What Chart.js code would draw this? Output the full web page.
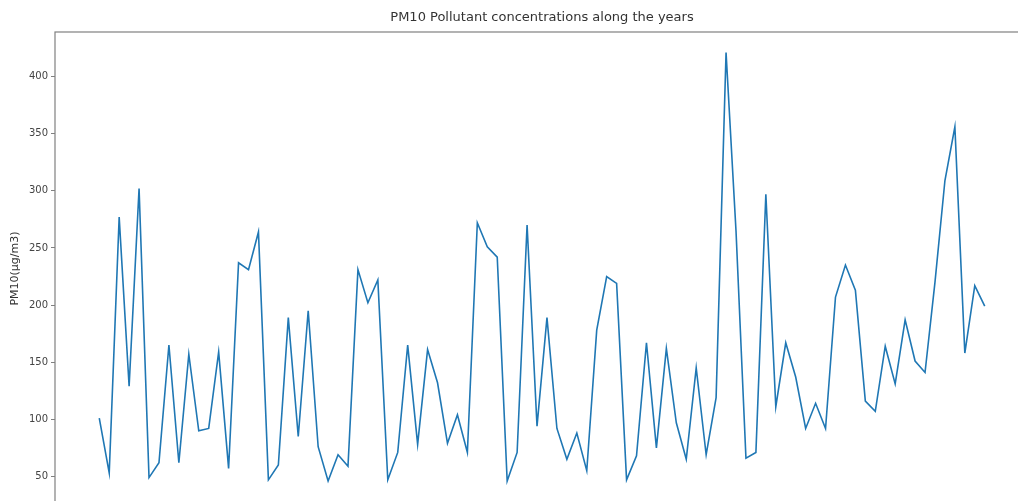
<!DOCTYPE html>
<html>
<head>
<meta charset="utf-8">
<script src="https://cdn.jsdelivr.net/npm/chart.js@4.4.1/dist/chart.umd.min.js"></script>
<style>
  html, body { margin: 0; padding: 0; overflow: hidden; background: #fff; }
  #wrap { position: absolute; left: 0; top: 0; width: 1084px; height: 540px; }
</style>
</head>
<body>
<div id="wrap"><canvas id="c" width="1084" height="540"></canvas></div>
<script>
// Chart text
const chartTitle = 'PM10 Pollutant concentrations along the years';
const yAxisLabel = 'PM10(μg/m3)';

// Y axis tick values
const yTicks = [50, 100, 150, 200, 250, 300, 350, 400];

// PM10 readings, one per sample, in order
const pm10 = [
  101, 53, 277, 129, 302, 49, 62, 165, 62, 157,
  90, 92, 159, 57, 237, 231, 264, 47, 60, 189,
  85, 195, 76, 46, 69, 59, 231, 202, 222, 47,
  71, 165, 78, 161, 132, 79, 104, 71, 272, 251,
  242, 46, 71, 270, 94, 189, 92, 65, 88, 55,
  178, 225, 219, 47, 68, 167, 75, 162, 97, 65,
  145, 69, 119, 421, 265, 66, 71, 297, 111, 167,
  137, 92, 114, 92, 207, 235, 213, 116, 107, 164,
  131, 187, 151, 141, 220, 309, 356, 158, 217, 199
];

// Sample positions along the x axis
const sampleIndex = pm10.map((_, i) => i);

// Draws the four spines around the plotting area and the title above it,
// centred on the plotting area
const frame = {
  id: 'frame',
  afterDraw(chart) {
    const { ctx, chartArea: a } = chart;
    ctx.save();
    ctx.strokeStyle = '#808080';
    ctx.lineWidth = 1.2;
    ctx.strokeRect(a.left, a.top, a.right - a.left, a.bottom - a.top);
    ctx.fillStyle = '#333';
    ctx.font = '13px "DejaVu Sans"';
    ctx.textAlign = 'center';
    ctx.textBaseline = 'middle';
    ctx.fillText(chartTitle, (a.left + a.right) / 2, 18);
    ctx.restore();
  }
};

new Chart(document.getElementById('c'), {
  type: 'line',
  data: {
    datasets: [{
      data: sampleIndex.map((x, i) => ({ x, y: pm10[i] })),
      borderColor: '#1f77b4',
      borderWidth: 1.6,
      pointRadius: 0,
      tension: 0,
      fill: false
    }]
  },
  options: {
    responsive: false,
    devicePixelRatio: 1,
    animation: false,
    events: [],
    layout: { padding: { left: 0, right: 55, top: 32, bottom: 35 } },
    plugins: {
      legend: { display: false },
      tooltip: { enabled: false },
      title: { display: false }
    },
    scales: {
      x: {
        type: 'linear',
        display: false,
        min: -4.45,
        max: 93.45
      },
      y: {
        type: 'linear',
        min: 25,
        max: 439,
        afterBuildTicks: s => { s.ticks = yTicks.map(v => ({ value: v })); },
        afterFit: s => { s.width = 55; },
        border: { display: false },
        grid: {
          drawOnChartArea: false,
          drawTicks: true,
          tickLength: 4,
          color: '#808080'
        },
        ticks: {
          color: '#444',
          padding: 3,
          font: { family: 'DejaVu Sans', size: 10 }
        },
        title: {
          display: true,
          text: yAxisLabel,
          color: '#333',
          padding: { top: 8.5, bottom: 0 },
          font: { family: 'DejaVu Sans', size: 11 }
        }
      }
    }
  },
  plugins: [frame]
});
</script>
</body>
</html>
